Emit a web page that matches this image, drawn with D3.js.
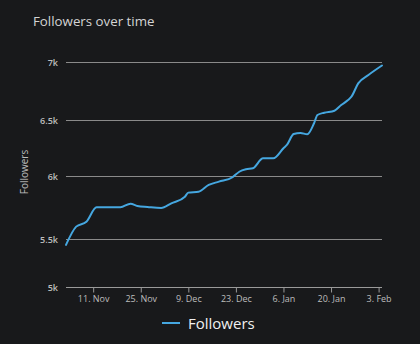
<!DOCTYPE html>
<html>
<head>
<meta charset="utf-8">
<script src="https://cdn.jsdelivr.net/npm/d3@7"></script>
<style>
  html, body { margin: 0; padding: 0; background: #18191b; }
  svg { display: block; }
  text { font-family: "Open Sans", "Noto Sans", sans-serif; }
</style>
</head>
<body>
<svg id="chart" width="420" height="344"></svg>
<script>
// ---- data ----
const startDate = "2019-11-03";
const dayOffsets = [0, 3, 6, 9, 16, 19, 21, 24, 28, 31, 35, 36, 39, 42, 45, 49, 51, 53, 55, 58, 61, 64, 65, 67, 69, 71, 73, 74, 76, 79, 81, 83, 84, 86, 89, 93];
const followers = [5438, 5598, 5637, 5752, 5752, 5780, 5762, 5754, 5746, 5783, 5836, 5868, 5875, 5929, 5955, 5990, 6038, 6060, 6069, 6158, 6158, 6247, 6277, 6375, 6385, 6372, 6471, 6543, 6563, 6580, 6629, 6672, 6701, 6816, 6888, 6970];
const xTickDates = ["2019-11-11", "2019-11-25", "2019-12-09", "2019-12-23", "2020-01-06", "2020-01-20", "2020-02-03"];
const yTickValues = [5000, 5500, 6000, 6500, 7000];
const yTickLabels = ["5k", "5.5k", "6k", "6.5k", "7k"];
const titleText = "Followers over time";
const yAxisTitle = "Followers";
const seriesName = "Followers";

// ---- build ----
const parse = d3.timeParse("%Y-%m-%d");
const t0 = parse(startDate);
const data = dayOffsets.map((d, i) => ({ date: d3.timeDay.offset(t0, d), value: followers[i] }));
const xTicks = xTickDates.map(parse);

const svg = d3.select("#chart");
const left = 66, right = 382;

const x = d3.scaleTime()
  .domain(d3.extent(data, d => d.date))
  .range([left, right]);

// the reference's vertical spacing between gridlines is uneven; follow it
const y = d3.scaleLinear()
  .domain(yTickValues)
  .range([287, 239, 176, 120, 62]);

// title
svg.append("text")
  .attr("x", 33).attr("y", 26)
  .attr("fill", "#d4d4d4")
  .style("font-size", "13.3px")
  .text(titleText);

// gridlines
svg.append("g").selectAll("line")
  .data(yTickValues.slice(1))
  .join("line")
  .attr("x1", left).attr("x2", right)
  .attr("y1", d => Math.round(y(d)) + 0.5).attr("y2", d => Math.round(y(d)) + 0.5)
  .attr("stroke", "#8a8a8a").attr("stroke-width", 1);

// y labels
svg.append("g").selectAll("text")
  .data(yTickValues)
  .join("text")
  .attr("x", 58).attr("y", d => y(d) + 3.5)
  .attr("text-anchor", "end")
  .attr("fill", "#bdbdbd")
  .style("font-size", "9px")
  .style("font-weight", "600")
  .text((d, i) => yTickLabels[i]);

// y axis title
svg.append("text")
  .attr("transform", "translate(28,172) rotate(-90)")
  .attr("text-anchor", "middle")
  .attr("fill", "#bdbdbd")
  .style("font-size", "10px")
  .text(yAxisTitle);

// x axis
const xAxis = d3.axisBottom(x)
  .tickValues(xTicks)
  .tickSize(5)
  .tickPadding(3)
  .tickFormat(d3.timeFormat("%-d. %b"));

const gx = svg.append("g")
  .attr("transform", `translate(0,${Math.round(y(5000)) + 0.5})`)
  .call(xAxis);
gx.select(".domain").attr("stroke", "#9a9a9a").attr("d", `M${left},0H${right}`);
gx.selectAll(".tick line").attr("stroke", "#9a9a9a");
gx.selectAll(".tick text")
  .attr("fill", "#bdbdbd")
  .style("font-size", "9px")
  .style("font-family", "'Open Sans', sans-serif");

// line
const line = d3.line()
  .x(d => x(d.date))
  .y(d => y(d.value))
  .curve(d3.curveMonotoneX);

svg.append("path")
  .datum(data)
  .attr("d", line)
  .attr("fill", "none")
  .attr("stroke", "#45a7e0")
  .attr("stroke-width", 2)
  .attr("stroke-linejoin", "round")
  .attr("stroke-linecap", "round");

// legend
svg.append("line")
  .attr("x1", 162).attr("x2", 180)
  .attr("y1", 323).attr("y2", 323)
  .attr("stroke", "#45a7e0").attr("stroke-width", 2);
svg.append("text")
  .attr("x", 188).attr("y", 328.5)
  .attr("fill", "#f0f0f0")
  .style("font-size", "15px")
  .text(seriesName);
</script>
</body>
</html>
